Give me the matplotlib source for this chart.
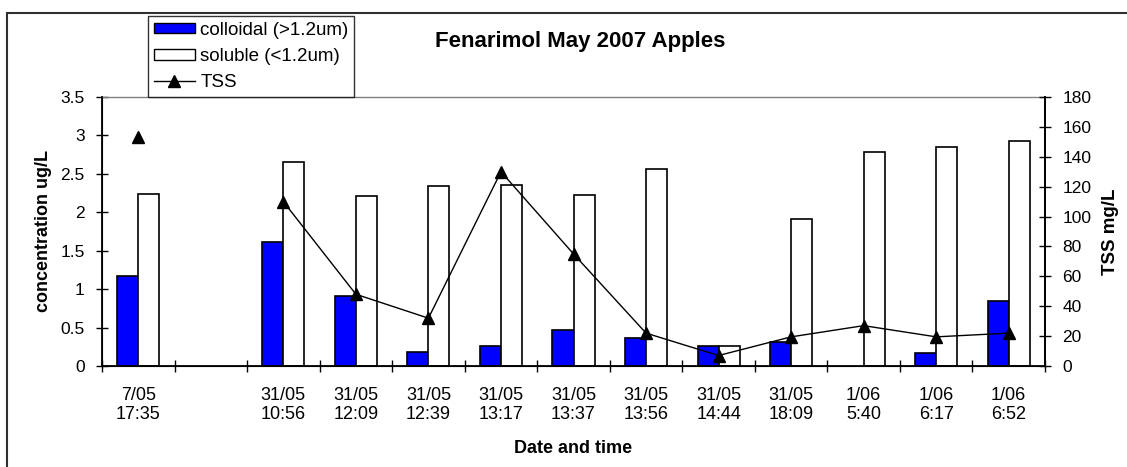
import numpy as np
import matplotlib.pyplot as plt
from matplotlib.patches import Patch, Rectangle
from matplotlib.lines import Line2D
from matplotlib.ticker import FuncFormatter

plt.rcParams['font.family'] = ['Liberation Sans', 'DejaVu Sans']

# sampling times (slot 1 is an empty gap between 7 May and 31 May)
labels = ['7/05\n17:35', '', '31/05\n10:56', '31/05\n12:09', '31/05\n12:39',
          '31/05\n13:17', '31/05\n13:37', '31/05\n13:56', '31/05\n14:44',
          '31/05\n18:09', '1/06\n5:40', '1/06\n6:17', '1/06\n6:52']
colloidal = [1.17, np.nan, 1.61, 0.91, 0.18, 0.26, 0.47, 0.36, 0.26, 0.31, np.nan, 0.17, 0.84]
soluble = [2.24, np.nan, 2.65, 2.21, 2.34, 2.36, 2.23, 2.56, 0.26, 1.91, 2.78, 2.85, 2.93]
tss = [153, np.nan, 110, 48, 32, 130, 75, 22, 7, 19.5, 27, 19.5, 22]

x = np.arange(len(labels))
w = 0.29

fig = plt.figure(figsize=(11.27, 4.67), dpi=100)
ax = fig.add_axes([102 / 1127, 101 / 467, 943 / 1127, 269 / 467])

ax.bar(x - w / 2, colloidal, w, color='#0000ff', edgecolor='black', linewidth=1.2, zorder=2)
ax.bar(x + w / 2, soluble, w, color='white', edgecolor='black', linewidth=1.2, zorder=2)

ax.set_xlim(-0.5, len(labels) - 0.5)
ax.set_ylim(0, 3.5)
ax.set_yticks(np.arange(0, 3.51, 0.5))
ax.yaxis.set_major_formatter(FuncFormatter(lambda v, p: f'{v:g}'))

# ticks on category borders, labels in the middle
ax.set_xticks(np.arange(-0.5, len(labels), 1))
ax.set_xticklabels([])
ax.set_xticks(x, minor=True)
ax.set_xticklabels(labels, minor=True, fontsize=13, linespacing=1.2)
ax.tick_params(axis='x', which='major', direction='inout', length=9, width=1)
ax.tick_params(axis='x', which='minor', length=0, pad=15)
ax.tick_params(axis='y', direction='inout', length=9, width=1, labelsize=12.5, pad=8)

for s in ['left', 'bottom', 'right']:
    ax.spines[s].set_linewidth(1.3)
ax.spines['top'].set_color('#808080')
ax.spines['top'].set_linewidth(1)

ax.set_ylabel('concentration ug/L', fontsize=13, fontweight='bold', labelpad=6)
ax.set_xlabel('Date and time', fontsize=13, fontweight='bold', labelpad=12)

ax2 = ax.twinx()
ax2.plot(x, tss, color='black', linewidth=1, marker='^', markersize=8.5)
ax2.set_ylim(0, 180)
ax2.set_yticks(np.arange(0, 181, 20))
ax2.tick_params(axis='y', direction='inout', length=9, width=1, labelsize=12.5, pad=8)
ax2.spines['right'].set_linewidth(1.3)
ax2.spines['top'].set_visible(False)
ax2.set_ylabel('TSS mg/L', fontsize=13.5, fontweight='bold', labelpad=8)

fig.text(580 / 1127, 1 - 42 / 467, 'Fenarimol May 2007 Apples', fontsize=16,
         fontweight='bold', ha='center', va='center')

handles = [Patch(facecolor='#0000ff', edgecolor='black', label='colloidal (>1.2um)'),
           Patch(facecolor='white', edgecolor='black', label='soluble (<1.2um)'),
           Line2D([], [], color='black', linewidth=1, marker='^', markersize=8.5, label='TSS')]
leg = fig.legend(handles=handles, loc='lower left', bbox_to_anchor=(148 / 1127, 1 - 97 / 467),
                 fontsize=13.5, frameon=True, fancybox=False, borderaxespad=0,
                 handlelength=2.2, handleheight=0.5, handletextpad=0.3,
                 labelspacing=0.5, borderpad=0.3)
leg.get_frame().set_edgecolor('black')
leg.get_frame().set_linewidth(1)

# outer chart border
fig.patches.append(Rectangle((7 / 1127, -0.1), 1.2, 1.1 - 13 / 467,
                             transform=fig.transFigure, fill=False,
                             edgecolor='#303030', linewidth=1.5))

fig.savefig('out.png', dpi=100)
